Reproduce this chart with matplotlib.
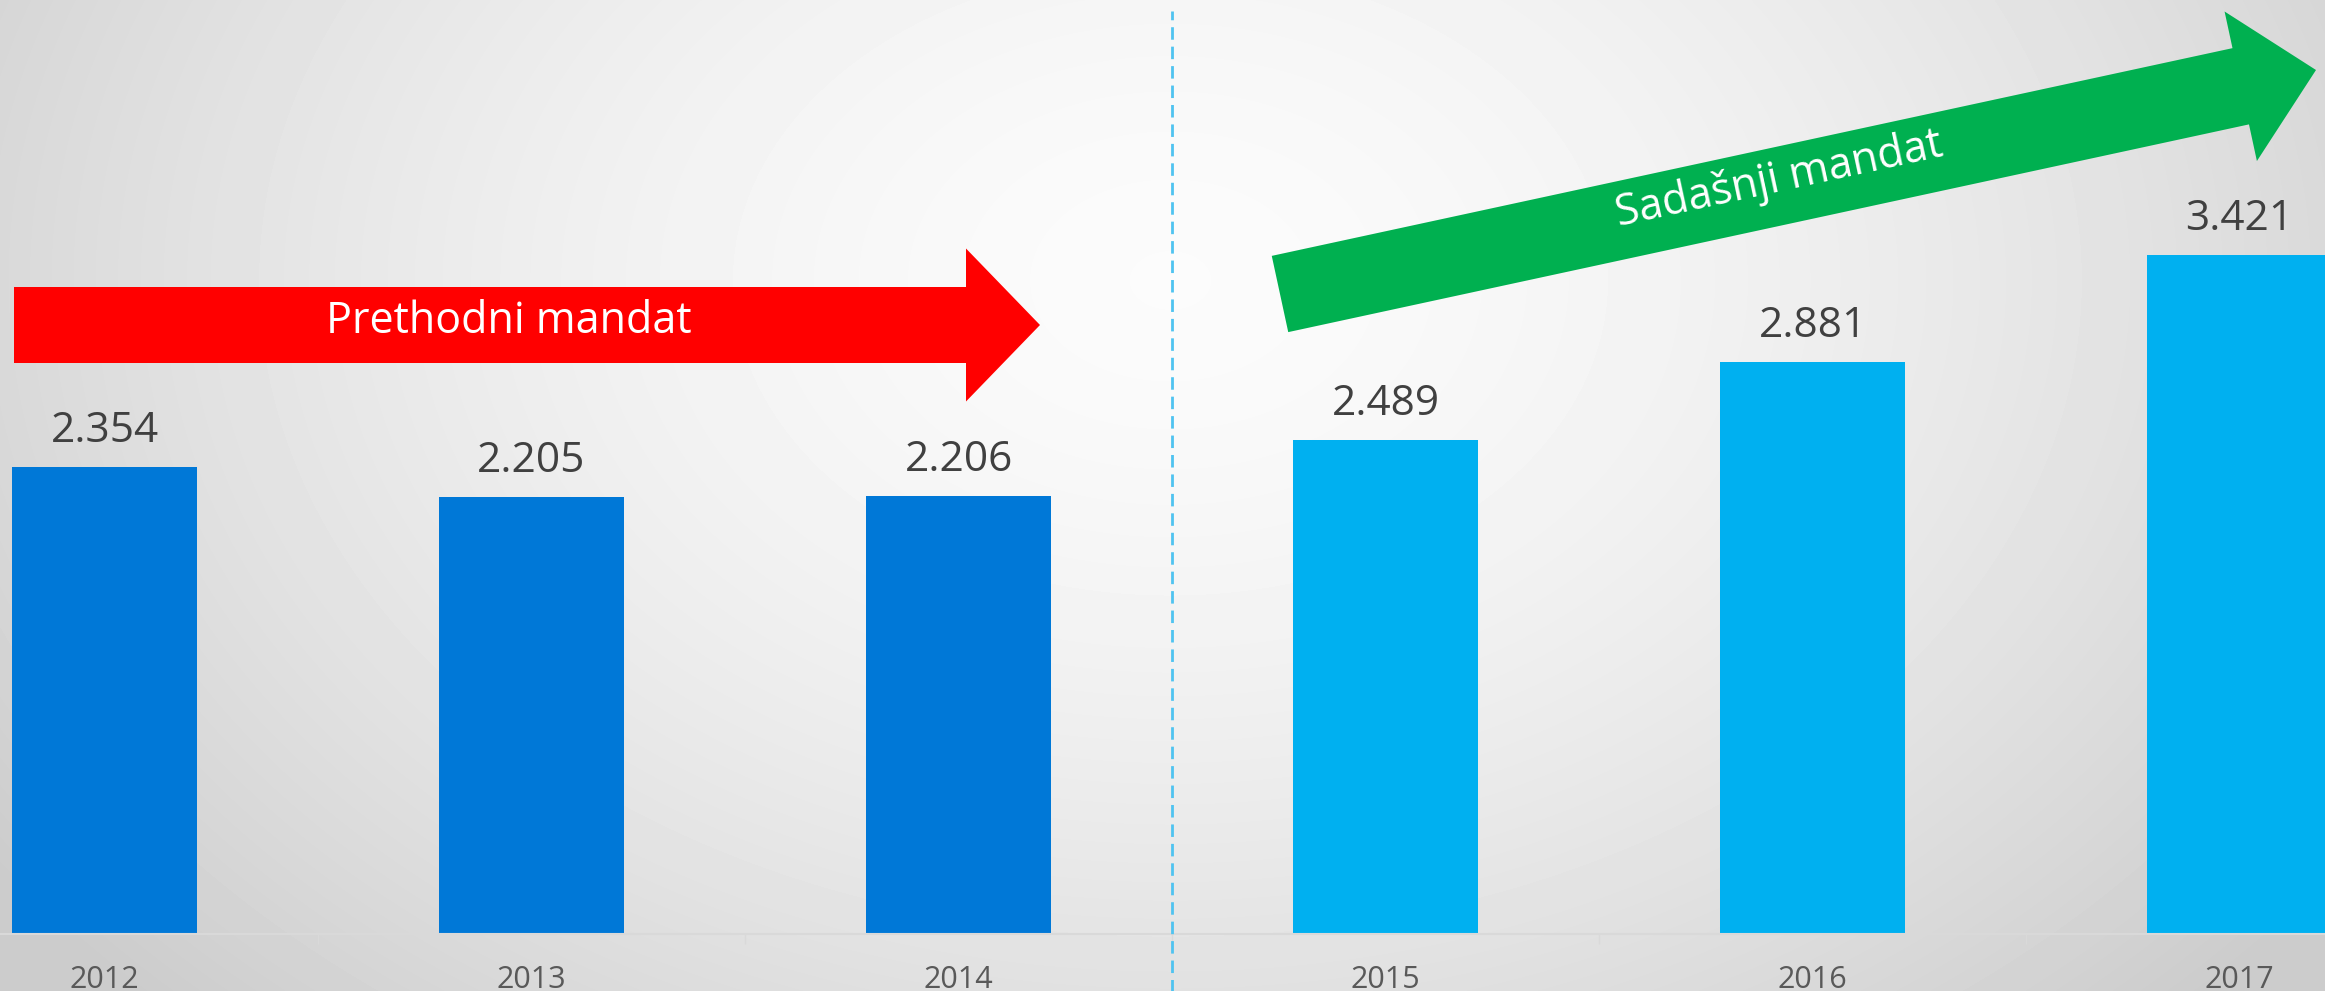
import numpy as np
import matplotlib.pyplot as plt
from matplotlib.patches import Polygon

# chart data
years = ['2012', '2013', '2014', '2015', '2016', '2017']
values = [2354, 2205, 2206, 2489, 2881, 3421]
colors = ['#0078D7'] * 3 + ['#00B0F0'] * 3

W, H = 2325, 991
fig = plt.figure(figsize=(W / 100, H / 100), dpi=100)
plt.rcParams['font.family'] = ['Open Sans', 'DejaVu Sans']

# radial grey-to-white background
bg = fig.add_axes([0, 0, 1, 1], zorder=0)
yy, xx = np.mgrid[0:H, 0:W]
d = np.sqrt(((xx - 1170) / 1250.0) ** 2 + ((yy - 280) / 900.0) ** 2)
shade = np.clip(0.985 - 0.15 * d ** 1.6, 0.80, 1.0)
bg.imshow(shade, cmap='gray', vmin=0, vmax=1, aspect='auto', extent=[0, 1, 0, 1])
bg.axis('off')


def px(x, y):
    # figure pixels (from top-left) to figure fraction
    return x / W, 1 - y / H


ax = fig.add_axes([0, 57 / H, 1, 1 - 57 / H], zorder=1)
ax.patch.set_alpha(0)
x = np.arange(len(years))
ax.bar(x, values, width=0.433, color=colors, zorder=2)
for xi, v in zip(x, values):
    lbl = f'{v:,}'.replace(',', '.')
    ax.annotate(lbl, (xi, v), xytext=(0, 18), textcoords='offset points',
                ha='center', va='baseline', fontsize=30.5, color='#404040')

ax.set_xlim(-0.2447, 5.2)
ax.set_ylim(0, 4708)
ax.set_yticks([])
for s in ['top', 'right', 'left']:
    ax.spines[s].set_visible(False)
ax.spines['bottom'].set_color('#d9d9d9')
ax.spines['bottom'].set_linewidth(1.5)
ax.set_xticks(x)
ax.set_xticklabels(years, fontsize=22, color='#595959')
ax.tick_params(axis='x', which='major', length=0, pad=22)
ax.set_xticks([0.5, 1.5, 2.5, 3.5, 4.5], minor=True)
ax.tick_params(axis='x', which='minor', length=7, color='#d9d9d9', width=1)

# dashed divider between mandates
ax.plot([2.5, 2.5], [-0.065, 0.988], transform=ax.get_xaxis_transform(),
        color='#4FC3F0', lw=2, ls=(0, (4.5, 2.5)), clip_on=False, zorder=3)


def arrow(tail, tip, shaft_w, head_w, head_l, color):
    t = np.array(tail, float)
    p = np.array(tip, float)
    u = (p - t) / np.linalg.norm(p - t)
    n = np.array([-u[1], u[0]])
    b = p - u * head_l
    pts = [t + n * shaft_w / 2, b + n * shaft_w / 2, b + n * head_w / 2, p,
           b - n * head_w / 2, b - n * shaft_w / 2, t - n * shaft_w / 2]
    pts = [px(*q) for q in pts]
    fig.patches.append(Polygon(pts, closed=True, facecolor=color, edgecolor='none',
                               transform=fig.transFigure, zorder=4))


arrow((14, 325), (1040, 325), 76, 153, 74, '#FF0000')
arrow((1280, 294), (2316, 70), 78, 153, 77, '#00B050')

fig.text(*px(509, 322), 'Prethodni mandat', ha='center', va='center',
         fontsize=31, color='white', zorder=5)
fig.text(*px(1779, 180), 'Sadašnji mandat', ha='center', va='center',
         fontsize=31, color='white', rotation=12.2, rotation_mode='anchor', zorder=5)

fig.savefig('out.png', dpi=100)
